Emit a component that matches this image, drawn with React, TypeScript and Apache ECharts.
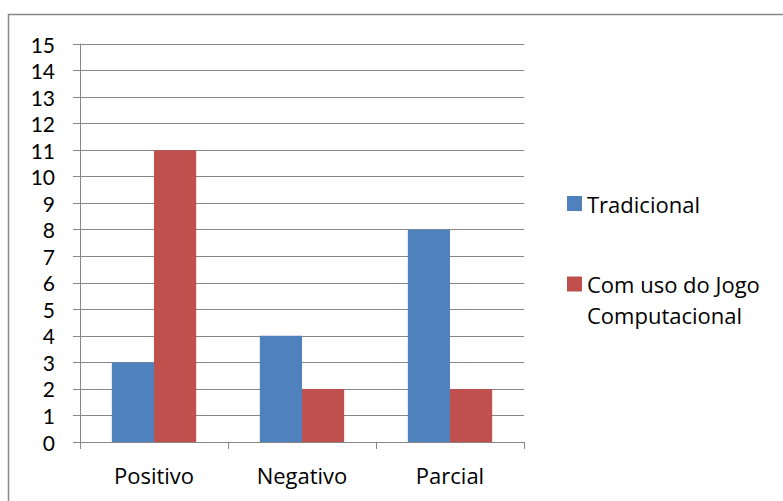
import React, { useEffect, useRef } from "react";
import * as echarts from "echarts";

const categories = ["Positivo", "Negativo", "Parcial"];
const tradicional = [3, 4, 8];
const comJogo = [11, 2, 2];
const seriesNames = ["Tradicional", "Com uso do Jogo Computacional"];

const FONT = "'Open Sans', sans-serif";
const YFONT = "Lato, sans-serif";
const GRAY = "#878787";
const FS = 22;

export default function App() {
  const ref = useRef<HTMLDivElement>(null);
  useEffect(() => {
    if (!ref.current) return;
    const chart = echarts.init(ref.current, null, { renderer: "svg" });
    chart.setOption({
      animation: false,
      backgroundColor: "#ffffff",
      textStyle: { fontFamily: FONT },
      graphic: [
        {
          type: "rect",
          shape: { x: 8.5, y: 14.5, width: 800, height: 500 },
          style: { fill: "none", stroke: GRAY, lineWidth: 1.5 },
          silent: true,
        },
      ],
      grid: { left: 80, top: 44, right: 259, bottom: 59, containLabel: false },
      legend: [
        {
          data: [seriesNames[0]],
          left: 567,
          top: 188,
          padding: 0,
          orient: "vertical",
          itemWidth: 15,
          itemHeight: 15,
          icon: "rect",
          textStyle: { fontFamily: FONT, fontSize: FS, color: "#000", lineHeight: 31 },
          selectedMode: false,
        },
        {
          data: [seriesNames[1]],
          left: 567,
          top: 237.5,
          padding: 0,
          orient: "vertical",
          itemWidth: 15,
          itemHeight: 15,
          icon: "rect",
          formatter: () => "\nCom uso do Jogo\nComputacional",
          textStyle: {
            fontFamily: FONT,
            fontSize: FS,
            color: "#000",
            lineHeight: 31,
          },
          selectedMode: false,
        },
      ],
      xAxis: {
        type: "category",
        data: categories,
        axisLine: { show: true, lineStyle: { color: GRAY, width: 1 } },
        axisTick: { show: true, length: 7, lineStyle: { color: GRAY } },
        axisLabel: {
          fontFamily: FONT,
          fontSize: FS,
          color: "#000",
          margin: 22,
          lineHeight: 22,
        },
      },
      yAxis: {
        type: "value",
        min: 0,
        max: 15,
        interval: 1,
        axisLine: { show: true, lineStyle: { color: GRAY, width: 1 } },
        axisTick: { show: true, length: 7, lineStyle: { color: GRAY } },
        splitLine: { show: true, lineStyle: { color: GRAY, width: 1 } },
        axisLabel: { fontFamily: YFONT, fontSize: 21, color: "#000", margin: 25, lineHeight: 21 },
      },
      series: [
        {
          name: seriesNames[0],
          type: "bar",
          data: tradicional,
          itemStyle: { color: "#4F81BD" },
          barGap: "0%",
          barCategoryGap: "43%",
        },
        {
          name: seriesNames[1],
          type: "bar",
          data: comJogo,
          itemStyle: { color: "#C0504D" },
          barGap: "0%",
          barCategoryGap: "43%",
        },
      ],
    });
    return () => chart.dispose();
  }, []);
  return (
    <div
      ref={ref}
      style={{ position: "fixed", left: 0, top: 0, width: 783, height: 501, background: "#fff" }}
    />
  );
}
